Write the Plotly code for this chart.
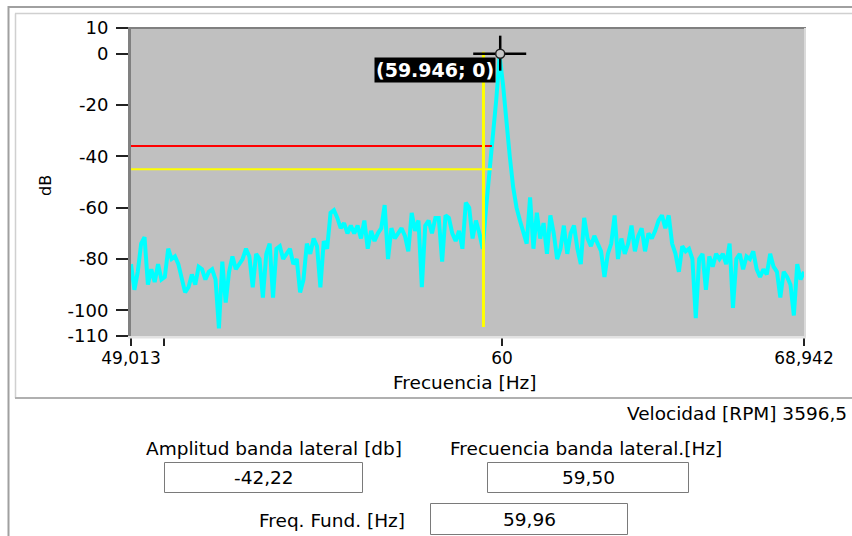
import numpy as np
import plotly.graph_objects as go

# ---------------- data ----------------
freq_start = 49.013
freq_end = 68.942

amplitude_db = [
    -82, -92, -85, -74, -71.5, -90, -84, -89, -82, -88,
    -87, -76, -80, -79, -82, -88, -93, -91, -86, -90,
    -83, -84, -88, -85, -84, -88, -107, -81, -97, -85,
    -79, -84, -82, -80, -76, -79, -91, -78, -80, -95,
    -78, -74, -95, -76, -75, -80, -78, -76, -82, -80,
    -93, -88, -74, -78, -72, -75, -91, -73, -76, -62,
    -61, -64, -68, -66, -70, -67, -70, -67, -72, -65,
    -76, -69, -73, -70, -68, -59, -80, -68, -72, -70,
    -68, -71, -77, -62, -69, -65, -91, -67, -65, -70,
    -64, -64, -81, -63, -64, -70, -73, -69, -76, -58,
    -60, -72, -65, -70, -76, -60, -44, -32, -18, -1,
    -12, -28, -40, -52, -60, -65, -70, -74, -56, -76,
    -62, -72, -66, -78, -63, -70, -80, -76, -67, -78,
    -70, -67, -76, -82, -64, -72, -75, -71, -74, -77,
    -87, -78, -74, -63, -80, -72, -78, -74, -67, -77,
    -71, -68, -77, -70, -72, -69, -65, -63, -68, -63,
    -74, -78, -85, -75, -77, -76, -80, -103, -80, -78,
    -92, -79, -83, -78, -80, -78, -82, -74, -99, -80,
    -78, -84, -79, -80, -77, -84, -87, -84, -86, -78,
    -83, -85, -95, -85, -87, -90, -102, -82, -88, -85,
]
freq_hz = np.linspace(freq_start, freq_end, len(amplitude_db))

x_tick_vals = [49.013, 50, 60, 68.942]
x_tick_text = ["49,013", "", "60", "68,942"]
y_tick_vals = [10, 0, -20, -40, -60, -80, -100, -110]
y_tick_text = ["10", "0", "-20", "-40", "-60", "-80", "-100", "-110"]

cursor_freq = 59.946
cursor_db = 0
cursor_label = "(59.946; 0)"

sideband_freq = 59.45
red_level_db = -36
yellow_level_db = -45
level_lines_end_freq = 59.70
sideband_line_top_db = 0.7
sideband_line_bottom_db = -106.5

x_title = "Frecuencia [Hz]"
y_title = "dB"
rpm_text = "Velocidad [RPM] 3596,5"
field_labels = ["Amplitud banda lateral [db]", "Frecuencia banda lateral.[Hz]", "Freq. Fund. [Hz]"]
field_values = ["-42,22", "59,50", "59,96"]

# ---------------- layout helpers (pixel -> paper) ----------------
W, H = 852, 536
L, R, T, B = 131, 804, 28, 336


def px(x):
    return (x - L) / (R - L)


def py(y):
    return (B - y) / (B - T)


FONT = "DejaVu Sans"

fig = go.Figure()

fig.add_trace(go.Scatter(
    x=freq_hz, y=amplitude_db, mode="lines",
    line=dict(color="#00FFFF", width=4), hoverinfo="skip", showlegend=False,
))
fig.add_trace(go.Scatter(
    x=[freq_start, level_lines_end_freq], y=[red_level_db, red_level_db], mode="lines",
    line=dict(color="#FF0000", width=2), hoverinfo="skip", showlegend=False,
))
fig.add_trace(go.Scatter(
    x=[freq_start, level_lines_end_freq], y=[yellow_level_db, yellow_level_db], mode="lines",
    line=dict(color="#FFFF00", width=2), hoverinfo="skip", showlegend=False,
))
fig.add_trace(go.Scatter(
    x=[sideband_freq, sideband_freq], y=[sideband_line_top_db, sideband_line_bottom_db], mode="lines",
    line=dict(color="#FFFF00", width=3), hoverinfo="skip", showlegend=False,
))

shapes = []

# cursor crosshair (pixel-sized around the data point)
shapes.append(dict(type="line", xref="x", yref="y", xsizemode="pixel", xanchor=cursor_freq,
                   x0=-27, x1=26, y0=cursor_db, y1=cursor_db,
                   line=dict(color="#000000", width=2.5)))
shapes.append(dict(type="line", xref="x", yref="y", ysizemode="pixel", yanchor=cursor_db,
                   x0=cursor_freq, x1=cursor_freq, y0=-17, y1=18,
                   line=dict(color="#000000", width=2.5)))
shapes.append(dict(type="circle", xref="x", yref="y", xsizemode="pixel", ysizemode="pixel",
                   xanchor=cursor_freq, yanchor=cursor_db, x0=-4.5, x1=4.5, y0=-4.5, y1=4.5,
                   fillcolor="#C8C8C8", line=dict(color="#202020", width=1.5)))


def pline(x0, y0, x1, y1, color, width):
    shapes.append(dict(type="line", xref="paper", yref="paper",
                       x0=px(x0), y0=py(y0), x1=px(x1), y1=py(y1),
                       line=dict(color=color, width=width), layer="above"))


# plot-area inset border
pline(128, 28, 806, 28, "#808080", 2)
pline(805, 28, 805, 338, "#DADADA", 2)
pline(128, 337.5, 806, 337.5, "#E2E2E2", 2)

# outer panel borders
pline(8.5, 6, 8.5, 536, "#A0A0A0", 2)
pline(8, 7, 852, 7, "#A0A0A0", 2)
pline(15.5, 13.5, 15.5, 398, "#D0D0D0", 1.5)
pline(15, 13.5, 852, 13.5, "#D0D0D0", 1.5)
pline(15, 398, 852, 398, "#B0B0B0", 2)

# value boxes
boxes = [(164.5, 462.5, 362.5, 492.5), (487.5, 462.5, 688.5, 492.5), (430.5, 503.5, 627.5, 534.5)]
for (x0, y0, x1, y1) in boxes:
    shapes.append(dict(type="rect", xref="paper", yref="paper",
                       x0=px(x0), y0=py(y0), x1=px(x1), y1=py(y1),
                       fillcolor="#FFFFFF", line=dict(color="#7A7A7A", width=1)))

annotations = []


def ptext(text, x, y, size, xanchor="center", yanchor="middle", angle=0, color="#000000"):
    annotations.append(dict(text=text, xref="paper", yref="paper", x=px(x), y=py(y),
                            xanchor=xanchor, yanchor=yanchor, showarrow=False, textangle=angle,
                            font=dict(family=FONT, size=size, color=color)))


# cursor label
annotations.append(dict(text="<b>" + cursor_label + "</b>", xref="x", yref="y",
                        x=cursor_freq, y=cursor_db, xanchor="right", yanchor="top",
                        xshift=-4, yshift=-3, showarrow=False, bgcolor="#000000",
                        borderpad=1, font=dict(family=FONT, size=19, color="#FFFFFF")))

ptext(x_title, 464, 382, 18.5)
ptext(y_title, 45, 186, 16, angle=-90)
ptext(rpm_text, 849, 413, 18.5, xanchor="right")
ptext(field_labels[0], 274, 448, 18.5)
ptext(field_labels[1], 586, 448, 18.5)
ptext(field_labels[2], 407, 520, 18.5, xanchor="right")
ptext(field_values[0], 263.5, 477.5, 18.5)
ptext(field_values[1], 588, 477.5, 18.5)
ptext(field_values[2], 529, 519, 18.5)

fig.update_layout(
    width=W, height=H, autosize=False,
    margin=dict(l=L, r=W - R, t=T, b=H - B, pad=0),
    paper_bgcolor="#FFFFFF", plot_bgcolor="#C0C0C0",
    showlegend=False,
    shapes=shapes, annotations=annotations,
    xaxis=dict(range=[freq_start, freq_end], tickmode="array", tickvals=x_tick_vals, ticktext=x_tick_text,
               ticks="outside", ticklen=8, tickwidth=2, tickcolor="#222222",
               showgrid=False, zeroline=False, showline=True, linecolor="#E2E2E2", linewidth=2,
               ticklabelstandoff=-2,
               tickfont=dict(family=FONT, size=17, color="#000000"), fixedrange=True),
    yaxis=dict(range=[-110, 10], tickmode="array", tickvals=y_tick_vals, ticktext=y_tick_text,
               ticks="outside", ticklen=12, tickwidth=2, tickcolor="#222222",
               showgrid=False, zeroline=False, showline=True, linecolor="#808080", linewidth=3,
               ticklabelstandoff=4,
               tickfont=dict(family=FONT, size=18, color="#000000"), fixedrange=True),
)

fig.write_html("out.html", config={"displayModeBar": False})
